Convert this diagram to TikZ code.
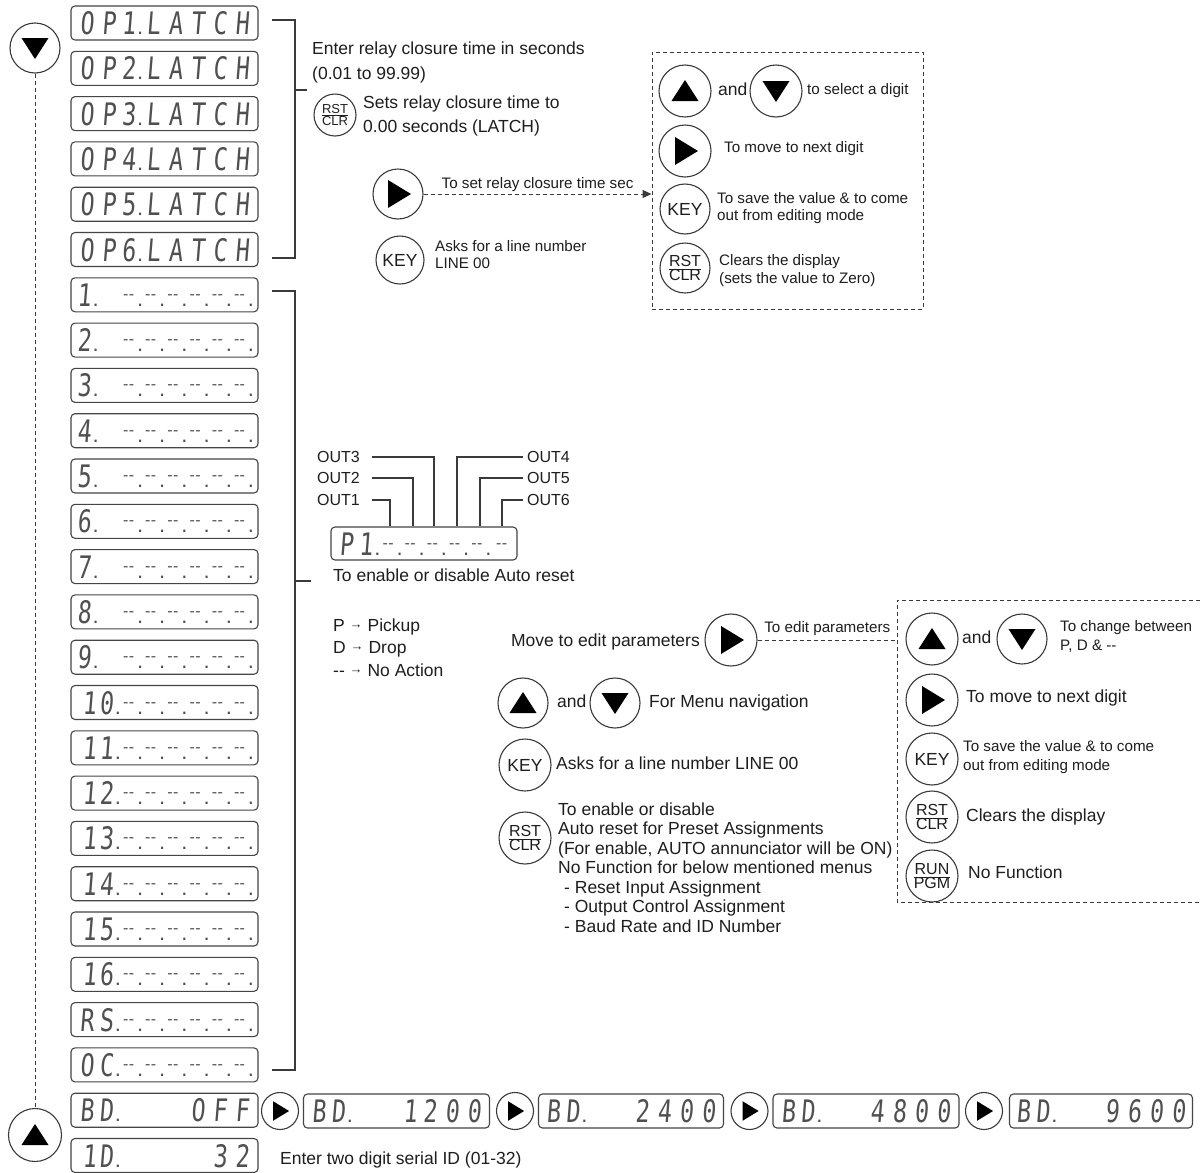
\documentclass[tikz,border=0pt]{standalone}
\usepackage{fontspec}
\setmainfont{Liberation Sans}
\newfontfamily\lcdf[FakeSlant=0.08,FakeStretch=0.75]{DejaVu Sans Mono}
\usetikzlibrary{arrows.meta}
\definecolor{linec}{HTML}{3A3A3A}
\definecolor{lcdc}{HTML}{454545}
\definecolor{lcdt}{HTML}{505050}
\definecolor{txtc}{HTML}{1E1E1E}
\newcommand\cl[1]{\makebox[22.2pt][c]{#1}}
\newcommand\cd[1]{\makebox[16.9pt][c]{#1}\makebox[5.3pt][l]{\fontsize{22}{22}\selectfont\rmfamily.}}
\newcommand\one{\hspace*{5pt}1}
\newcommand\dsh{\raisebox{7pt}{\fontsize{16}{16}\selectfont\rmfamily-\kern0.4pt-}}
\newcommand\dd{\cl{\dsh}}
\newcommand\ddd{\cd{\dsh}}
\newcommand\sixd{\ddd\ddd\ddd\ddd\ddd\ddd}
\newcommand\rc[2]{$\frac{\mbox{#1}}{\mbox{#2}}$}
\newcommand\arr{{\fontsize{13}{13}\selectfont\raisebox{2.5pt}{→}}}
\begin{document}
\begin{tikzpicture}[x=1pt,y=-1pt,
 btn/.style={circle, draw=linec, line width=1.1pt, minimum size=50pt, inner sep=0pt, text=txtc, font=\fontsize{17.5}{17.5}\selectfont},
 sbtn/.style={btn, minimum size=37pt},
 rbtn/.style={btn, font=\fontsize{16}{16}\selectfont},
 lcd/.style={draw=lcdc, line width=1.1pt, rounded corners=4pt, minimum width=187pt, minimum height=34pt, inner sep=0pt, text height=23pt, text depth=0pt, text=lcdt, font=\lcdf\fontsize{31}{31}\selectfont},
 txt/.style={anchor=west, inner sep=0pt, text=txtc, font=\fontsize{17.5}{17.5}\selectfont, text height=12.6pt, text depth=3.7pt},
 small/.style={txt, font=\fontsize{15.2}{15.2}\selectfont, text height=10.9pt, text depth=3.2pt},
 outf/.style={txt, font=\fontsize{16}{16}\selectfont, text height=11.5pt, text depth=0pt},
 brk/.style={draw=linec, line width=1.2pt},
 dline/.style={draw=linec, line width=1pt, dash pattern=on 4pt off 3pt},
 dbox/.style={dline},
 tri up/.pic={\fill[black] (0,-11) -- (-13.5,10) -- (13.5,10) -- cycle;},
 tri down/.pic={\fill[black] (0,11) -- (-13.5,-10) -- (13.5,-10) -- cycle;},
 tri right/.pic={\fill[black] (13,0) -- (-10,-14) -- (-10,14) -- cycle;}]
\useasboundingbox (0,0) rectangle (1200,1173);
\fill[white] (0,0) rectangle (1200,1173);

% ---------- left column ----------
\node[btn] (dnL) at (35,48) {};
\pic at (dnL) {tri down};
\node[btn, minimum size=53pt] (upL) at (35,1135) {};
\pic at (upL) {tri up};
\draw[dline] (dnL) -- (upL);

\node[lcd] (op1) at (164.5,23) {\cl{O}\cl{P}\cd{1}\cl{L}\cl{A}\cl{T}\cl{C}\cl{H}};
\foreach \n in {2,...,6}{\node[lcd] (op\n) at (164.5,{23+45.3*(\n-1)}) {\cl{O}\cl{P}\cd{\n}\cl{L}\cl{A}\cl{T}\cl{C}\cl{H}};}
\foreach \n in {1,...,9}{\node[lcd] (r\n) at (164.5,{23+45.3*(\n+5)}) {\cd{\n}\cl{}\sixd};}
\foreach \n in {0,...,6}{\node[lcd] (r1\n) at (164.5,{23+45.3*(\n+15)}) {\cl{\one}\cd{\n}\sixd};}
\node[lcd] (rs) at (164.5,{23+45.3*22}) {\cl{R}\cd{S}\sixd};
\node[lcd] (oc) at (164.5,{23+45.3*23}) {\cl{O}\cd{C}\sixd};

% brackets
\coordinate (b1t) at (272,20); \coordinate (b1b) at (272,258);
\coordinate (b1m) at (295,90); \coordinate (b1e) at (307,90);
\draw[brk] (b1t) -| (b1m) |- (b1b);
\draw[brk] (b1m) -- (b1e);
\coordinate (b2t) at (272,291); \coordinate (b2b) at (272,1070);
\coordinate (b2m) at (295,581); \coordinate (b2e) at (311,581);
\draw[brk] (b2t) -| (b2m) |- (b2b);
\draw[brk] (b2m) -- (b2e);

% ---------- latch texts ----------
\node[txt] (e1) at (312,50) {Enter relay closure time in seconds};
\node[txt] (e2) at (312,75) {(0.01 to 99.99)};
\node[btn, minimum size=42pt, font=\fontsize{13}{13}\selectfont] (rst0) at (335,115) {\rc{RST}{CLR}};
\node[txt] (s1) at (363,104) {Sets relay closure time to};
\node[txt] (s2) at (363,128) {0.00 seconds (LATCH)};
\node[btn] (rt0) at (398,194) {};
\pic at (rt0) {tri right};
\node[btn, minimum size=48pt] (key0) at (400,260) {KEY};
\node[small] (k1) at (435,248) {Asks for a line number};
\node[small] (k2) at (435,265) {LINE 00};

% top dashed box
\node[dbox, minimum width=271pt, minimum height=257pt, inner sep=0pt] (tbox) at (787.5,180.5) {};
\draw[dline, -{Triangle[length=9pt,width=8pt]}] (rt0) -- (rt0 -| tbox.west) node[small, midway, above=2pt] (lab1) {To set relay closure time sec};
\node[btn, minimum size=52pt] (tu) at (685,91) {};
\pic at (tu) {tri up};
\node[txt] (tand) at (718,91) {and};
\node[btn, minimum size=52pt] (td) at (776,91) {};
\pic at (td) {tri down};
\node[small] (ts) at (807,91) {to select a digit};
\node[btn, minimum size=52pt] (tr) at (685,151) {};
\pic at (tr) {tri right};
\node[small] (tm) at (724,149) {To move to next digit};
\node[btn] (tk) at (685,209) {KEY};
\node[small] (tk1) at (717,200) {To save the value \& to come};
\node[small] (tk2) at (717,217) {out from editing mode};
\node[rbtn] (tc) at (685,268) {\rc{RST}{CLR}};
\node[small] (tc1) at (719,262) {Clears the display};
\node[small] (tc2) at (719,280) {(sets the value to Zero)};

% ---------- P1 display ----------
\node[lcd, minimum width=186pt, minimum height=33pt] (p1) at (424,543.5) {\cl{P}\cd{1}\ddd\ddd\ddd\ddd\ddd\dd};
\node[outf, anchor=east] (o3) at (360,457) {OUT3};
\node[outf, anchor=east] (o2) at (360,478) {OUT2};
\node[outf, anchor=east] (o1) at (360,500) {OUT1};
\node[outf] (o4) at (527,457) {OUT4};
\node[outf] (o5) at (527,478) {OUT5};
\node[outf] (o6) at (527,500) {OUT6};
\draw[brk] ([xshift=12pt]o3.east) -| (p1.north -| 434,0);
\draw[brk] ([xshift=12pt]o2.east) -| (p1.north -| 413,0);
\draw[brk] ([xshift=12pt]o1.east) -| (p1.north -| 390,0);
\draw[brk] ([xshift=-4pt]o4.west) -| (p1.north -| 457,0);
\draw[brk] ([xshift=-4pt]o5.west) -| (p1.north -| 480,0);
\draw[brk] ([xshift=-4pt]o6.west) -| (p1.north -| 502,0);
\node[txt] (ar) at (333,577) {To enable or disable Auto reset};
\node[txt] (pp) at (333,627) {P \arr{} Pickup};
\node[txt] (pd) at (333,649) {D \arr{} Drop};
\node[txt] (pn) at (333,672) {-{}- \arr{} No Action};

% ---------- middle block ----------
\node[txt, anchor=east] (mv) at (700,642) {Move to edit parameters};
\node[btn, minimum size=52pt] (mr) at (731,640) {};
\pic at (mr) {tri right};
\coordinate (lbw) at (897,640);
\draw[dline] (mr) -- (lbw) node[small, midway, above=4pt] (lab2) {To edit parameters};
\node[btn] (mu) at (523,703) {};
\pic at (mu) {tri up};
\node[txt] (mand) at (557,703) {and};
\node[btn] (md) at (615,703) {};
\pic at (md) {tri down};
\node[txt] (mn) at (649,703) {For Menu navigation};
\node[btn, minimum size=52pt] (mk) at (525,765) {KEY};
\node[txt] (mk1) at (556,765) {Asks for a line number LINE 00};
\node[rbtn, minimum size=52pt] (mc) at (525,838) {\rc{RST}{CLR}};
\node[txt] (mc1) at (558,811) {To enable or disable};
\node[txt] (mc2) at (558,830.5) {Auto reset for Preset Assignments};
\node[txt] (mc3) at (558,850) {(For enable, AUTO annunciator will be ON)};
\node[txt] (mc4) at (558,869.5) {No Function for below mentioned menus};
\node[txt] (mc5) at (564,889) {- Reset Input Assignment};
\node[txt] (mc6) at (564,908.5) {- Output Control Assignment};
\node[txt] (mc7) at (564,928) {- Baud Rate and ID Number};

% lower dashed box
\coordinate (lb1) at (1200,600); \coordinate (lb2) at (897,600);
\coordinate (lb3) at (897,902); \coordinate (lb4) at (1200,902);
\draw[dbox] (lb1) -- (lb2) -- (lb3) -- (lb4);
\node[btn, minimum size=52pt] (lu) at (932,639) {};
\pic at (lu) {tri up};
\node[txt] (land) at (962,639) {and};
\node[btn] (ld) at (1022,639) {};
\pic at (ld) {tri down};
\node[small] (lt1) at (1060,628) {To change between};
\node[small] (lt2) at (1060,647) {P, D \& -{}-};
\node[btn, minimum size=52pt] (lr) at (932,700) {};
\pic at (lr) {tri right};
\node[txt] (lm) at (966,698) {To move to next digit};
\node[btn, minimum size=52pt] (lk) at (932,759) {KEY};
\node[small] (lk1) at (963,748) {To save the value \& to come};
\node[small] (lk2) at (963,767) {out from editing mode};
\node[rbtn, minimum size=52pt] (lc) at (932,817) {\rc{RST}{CLR}};
\node[txt] (lc1) at (966,817) {Clears the display};
\node[rbtn, minimum size=52pt] (lp) at (932,876) {\rc{RUN}{PGM}};
\node[txt] (lp1) at (968,874) {No Function};

% ---------- bottom rows ----------
\node[lcd] (bd0) at (164.5,1110.2) {\cl{B}\cd{D}\cl{}\cl{}\cl{}\cl{O}\cl{F}\cl{F}};
\node[sbtn] (n1) at (280,1111) {};
\pic[scale=0.7] at (n1) {tri right};
\node[lcd, minimum width=186pt] (bd1) at (396.5,1111) {\cl{B}\cd{D}\cl{}\cl{}\cl{\one}\cl{2}\cl{0}\cl{0}};
\node[sbtn] (n2) at (515,1111) {};
\pic[scale=0.7] at (n2) {tri right};
\node[lcd, minimum width=185pt] (bd2) at (631,1111) {\cl{B}\cd{D}\cl{}\cl{}\cl{2}\cl{4}\cl{0}\cl{0}};
\node[sbtn] (n3) at (749.5,1111) {};
\pic[scale=0.7] at (n3) {tri right};
\node[lcd, minimum width=186pt] (bd3) at (866,1111) {\cl{B}\cd{D}\cl{}\cl{}\cl{4}\cl{8}\cl{0}\cl{0}};
\node[sbtn] (n4) at (984,1111) {};
\pic[scale=0.7] at (n4) {tri right};
\node[lcd, minimum width=183pt] (bd4) at (1101,1111) {\cl{B}\cd{D}\cl{}\cl{}\cl{9}\cl{6}\cl{0}\cl{0}};
\node[lcd] (idr) at (164.5,1155.5) {\cl{\one}\cd{D}\cl{}\cl{}\cl{}\cl{}\cl{3}\cl{2}};
\node[txt] (en) at (280,1160) {Enter two digit serial ID (01-32)};
\end{tikzpicture}
\end{document}
